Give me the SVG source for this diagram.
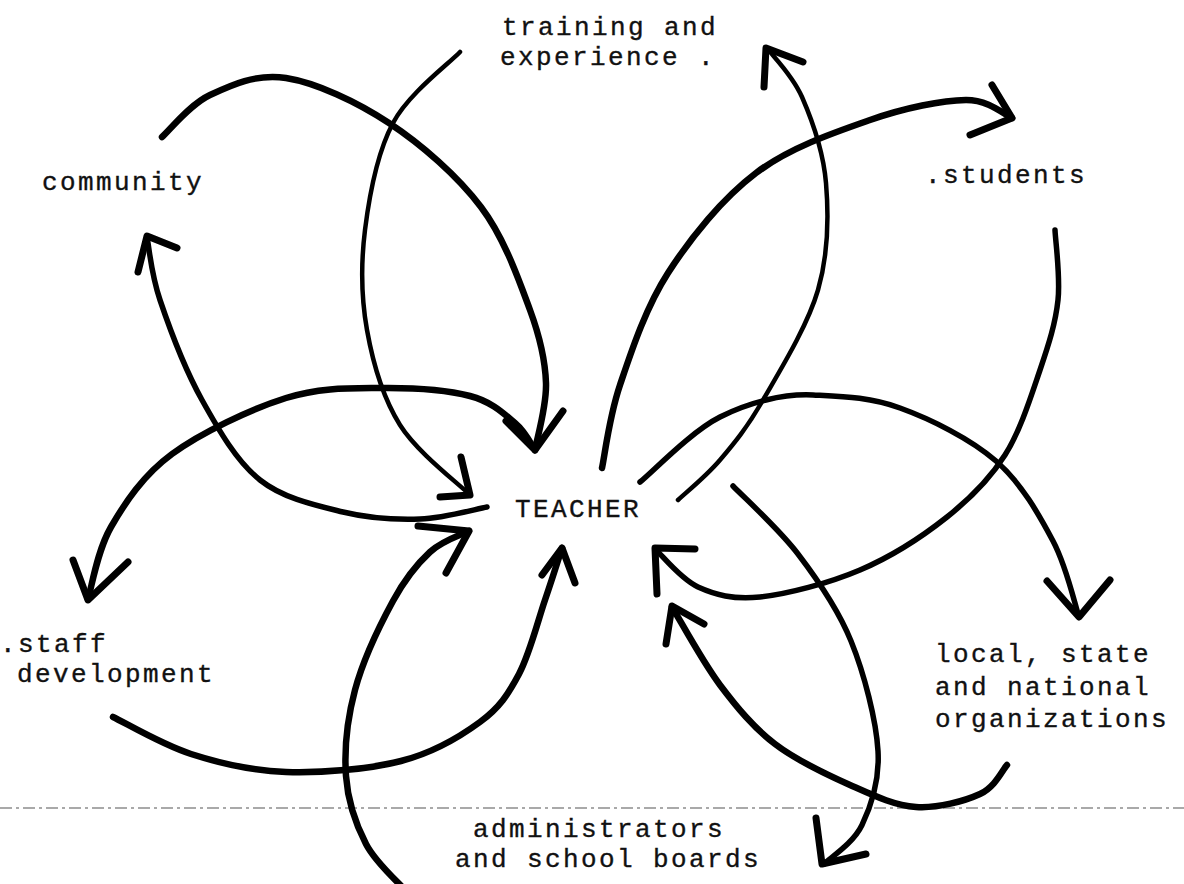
<svg xmlns="http://www.w3.org/2000/svg" width="1184" height="884" viewBox="0 0 1184 884">
<style>
.lbl{font-family:"Liberation Mono","DejaVu Sans Mono",monospace;font-size:26px;letter-spacing:2.4px;fill:#111;stroke:#111;stroke-width:0.35;}
.c{fill:none;stroke:#000;stroke-linecap:round;stroke-linejoin:round;}
.w4{stroke-width:4.5;}
.w5{stroke-width:5.5;}
.w6{stroke-width:6.5;}
.ah{fill:none;stroke:#000;stroke-width:7;stroke-linecap:round;stroke-linejoin:round;}
.fold{fill:none;stroke:#555;stroke-width:1.2;stroke-dasharray:12 4 3 4;}
</style>
<rect width="1184" height="884" fill="#fff"/>
<line class="fold" x1="0" y1="808" x2="1184" y2="808"/>
<g id="connectors">
  <path id="A" class="c w6" d="M162,137 C170,130 189.3,104.8 210,95 C230.7,85.2 256.2,73.3 286,78 C315.8,82.7 356.5,101.5 389,123 C421.5,144.5 457.5,175.8 481,207 C504.5,238.2 519.2,280.7 530,310 C540.8,339.3 545.2,359.7 546,383 C546.8,406.3 536.8,438.8 535,450"/>
  <polyline class="ah" points="506,421 535,450 563,411"/>
  <path id="B" class="c w4" d="M460,52 C448.8,63.8 408.8,93.3 393,123 C377.2,152.7 369.3,195.5 365,230 C360.7,264.5 361.2,297.5 367,330 C372.8,362.5 382.8,397.5 400,425 C417.2,452.5 458.3,483.3 470,495"/>
  <polyline class="ah" points="461,457 470,495 440,497"/>
  <path id="C" class="c w5" d="M147,237 C149.2,247.5 150.8,272.8 160,300 C169.2,327.2 185.3,370 202,400 C218.7,430 236.5,461.3 260,480 C283.5,498.7 316.3,505.5 343,512 C369.7,518.5 396,519.8 420,519 C444,518.2 475.8,509 487,507"/>
  <polyline class="ah" points="177,248 147,236 138,272"/>
  <path id="E" class="c w6" d="M88,599 C91.8,587 97,551.2 111,527 C125,502.8 142.8,475.5 172,454 C201.2,432.5 251,409 286,398 C321,387 351.3,388.3 382,388 C412.7,387.7 447.8,390.2 470,396 C492.2,401.8 504.2,414 515,423 C525.8,432 531.7,445.5 535,450"/>
  <polyline class="ah" points="73,560 88,600 128,562"/>
  <path id="F" class="c w6" d="M113,717 C126,723.2 162.2,744.8 191,754 C219.8,763.2 251,770.8 286,772 C321,773.2 368.7,769.3 401,761 C433.3,752.7 460.3,736.5 480,722 C499.7,707.5 508.2,694.3 519,674 C529.8,653.7 537.8,621 545,600 C552.2,579 559.2,556.7 562,548"/>
  <polyline class="ah" points="542,575 562,548 575,583"/>
  <path id="D" class="c w6" d="M405,890 C398.5,882.3 375.8,863 366,844 C356.2,825 347.8,801.7 346,776 C344.2,750.3 347.2,719.2 355,690 C362.8,660.8 380.5,624 393,601 C405.5,578 417.3,563.7 430,552 C442.7,540.3 462.5,534.5 469,531"/>
  <polyline class="ah" points="418,526 469,531 446,573"/>
  <path id="G" class="c w6" d="M602,468 C605,454.2 609,417.5 620,385 C631,352.5 645.3,308.3 668,273 C690.7,237.7 722.3,198.5 756,173 C789.7,147.5 835,132.2 870,120 C905,107.8 942.3,100.3 966,100 C989.7,100 1004.3,115 1012,118"/>
  <polyline class="ah" points="992,85 1012,118 970,135"/>
  <path id="H" class="c w4" d="M767,48 C772.8,56.2 792.2,74.5 802,97 C811.8,119.5 823.3,150.8 826,183 C828.7,215.2 828.5,253.8 818,290 C807.5,326.2 779.3,371.7 763,400 C746.7,428.3 734.2,443.3 720,460 C705.8,476.7 685,493.3 678,500"/>
  <polyline class="ah" points="764,87 766,48 803,62"/>
  <path id="I" class="c w5" d="M640,482 C653.3,471.2 691.2,431.5 720,417 C748.8,402.5 783,393.5 813,395 C843,396.5 869.5,397 900,408 C930.5,419 970.5,438.8 996,461 C1021.5,483.2 1039.2,515 1053,541 C1066.8,567 1074.7,604.3 1079,617"/>
  <polyline class="ah" points="1047,581 1079,617 1110,580"/>
  <path id="J" class="c w5" d="M1055,230 C1055.5,241.7 1060.5,276.7 1058,300 C1055.5,323.3 1048.8,344.2 1040,370 C1031.2,395.8 1020.5,430.5 1005,455 C989.5,479.5 971.2,497.8 947,517 C922.8,536.2 891.2,556.7 860,570 C828.8,583.3 787,594.2 760,597 C733,599.8 715.3,594.8 698,587 C680.7,579.2 663,556.2 656,550"/>
  <polyline class="ah" points="695,549 655,548 657,594"/>
  <path id="K" class="c w6" d="M1007,765 C1002.5,769.8 995.2,787 980,794 C964.8,801 937.7,808.5 916,807 C894.3,805.5 873.5,795.5 850,785 C826.5,774.5 796.7,760.7 775,744 C753.3,727.3 737.2,707.8 720,685 C702.8,662.2 680,620 672,607"/>
  <polyline class="ah" points="666,644 672,606 704,624"/>
  <path id="L" class="c w5" d="M733,486 C743.8,497.3 778.3,528.2 798,554 C817.7,579.8 837.7,608.2 851,641 C864.3,673.8 876.2,720.3 878,751 C879.8,781.7 871,806.2 862,825 C853,843.8 830.3,857.5 824,864"/>
  <polyline class="ah" points="816,818 822,864 866,854"/>
</g>
<g id="teacher"><text class="lbl" x="515" y="517">TEACHER</text></g>
<g id="training"><text class="lbl" x="502" y="35">training and</text><text class="lbl" x="500" y="65">experience .</text></g>
<g id="community"><text class="lbl" x="42" y="190">community</text></g>
<g id="students"><text class="lbl" x="925" y="183">.students</text></g>
<g id="staff"><text class="lbl" x="0" y="652">.staff</text><text class="lbl" x="17" y="682">development</text></g>
<g id="organizations"><text class="lbl" x="935" y="662">local, state</text><text class="lbl" x="935" y="695">and national</text><text class="lbl" x="935" y="727">organizations</text></g>
<g id="administrators"><text class="lbl" x="473" y="837">administrators</text><text class="lbl" x="455" y="867">and school boards</text></g>
</svg>
